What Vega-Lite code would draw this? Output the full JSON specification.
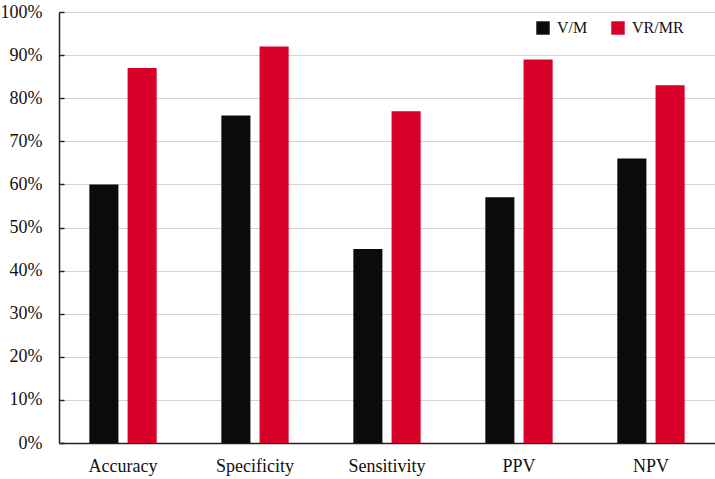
{
  "$schema": "https://vega.github.io/schema/vega-lite/v6.json",
  "width": 656,
  "height": 431,
  "autosize": "none",
  "padding": {"left": 59, "top": 12, "right": 0, "bottom": 36},
  "background": "white",
  "config": {
    "view": {"stroke": null},
    "font": "Liberation Serif",
    "axis": {"labelFont": "Liberation Serif"},
    "legend": {"labelFont": "Liberation Serif"}
  },
  "data": {
    "values": [
      {"metric": "Accuracy", "method": "V/M", "value": 0.60},
      {"metric": "Accuracy", "method": "VR/MR", "value": 0.87},
      {"metric": "Specificity", "method": "V/M", "value": 0.76},
      {"metric": "Specificity", "method": "VR/MR", "value": 0.92},
      {"metric": "Sensitivity", "method": "V/M", "value": 0.45},
      {"metric": "Sensitivity", "method": "VR/MR", "value": 0.77},
      {"metric": "PPV", "method": "V/M", "value": 0.57},
      {"metric": "PPV", "method": "VR/MR", "value": 0.89},
      {"metric": "NPV", "method": "V/M", "value": 0.66},
      {"metric": "NPV", "method": "VR/MR", "value": 0.83}
    ]
  },
  "mark": {"type": "bar"},
  "encoding": {
    "x": {
      "field": "metric",
      "type": "nominal",
      "sort": ["Accuracy", "Specificity", "Sensitivity", "PPV", "NPV"],
      "scale": {"paddingInner": 0.49, "paddingOuter": 0.23},
      "axis": {
        "title": null,
        "labelAngle": 0,
        "labelFont": "Liberation Serif",
        "labelFontSize": 18,
        "labelColor": "#111111",
        "labelPadding": 14,
        "ticks": false,
        "domainColor": "#222222",
        "domainWidth": 1.5
      }
    },
    "xOffset": {
      "field": "method",
      "type": "nominal",
      "scale": {"paddingInner": 0.24}
    },
    "y": {
      "field": "value",
      "type": "quantitative",
      "scale": {"domain": [0, 1]},
      "axis": {
        "title": null,
        "format": ".0%",
        "values": [0, 0.1, 0.2, 0.3, 0.4, 0.5, 0.6, 0.7, 0.8, 0.9, 1.0],
        "labelOverlap": false,
        "labelFlush": false,
        "labelFont": "Liberation Serif",
        "labelFontSize": 18,
        "labelColor": "#111111",
        "labelPadding": 22,
        "tickSize": -5,
        "tickColor": "#222222",
        "tickWidth": 1.5,
        "domainColor": "#222222",
        "domainWidth": 1.5,
        "grid": true,
        "gridColor": "#d8cfcf",
        "gridWidth": 1
      }
    },
    "color": {
      "field": "method",
      "type": "nominal",
      "scale": {"domain": ["V/M", "VR/MR"], "range": ["#0b0b0b", "#d60028"]},
      "legend": {
        "title": null,
        "orient": "none",
        "legendX": 476,
        "legendY": 8,
        "direction": "horizontal",
        "symbolType": "square",
        "symbolSize": 180,
        "symbolStrokeWidth": 0,
        "labelFont": "Liberation Serif",
        "labelFontSize": 16,
        "labelColor": "#111111",
        "columnPadding": 22,
        "labelOffset": 6
      }
    }
  }
}
